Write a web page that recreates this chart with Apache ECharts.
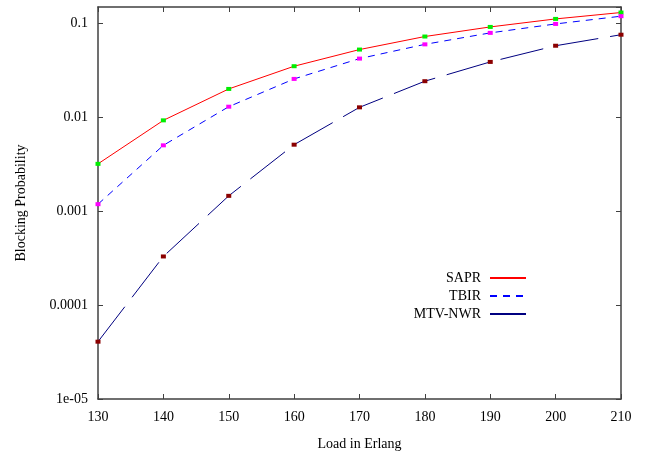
<!DOCTYPE html>
<html>
<head>
<meta charset="utf-8">
<script src="https://cdn.jsdelivr.net/npm/echarts@6/dist/echarts.min.js"></script>
<style>html,body{margin:0;padding:0;background:#fff}#c{width:656px;height:457px}</style>
</head>
<body>
<div id="c"></div>
<script>
var loads = [130, 140, 150, 160, 170, 180, 190, 200, 210];
var sapr = [0.0032, 0.0093, 0.0201, 0.0351, 0.0528, 0.0727, 0.092, 0.112, 0.131];
var tbir = [0.00119, 0.00504, 0.0130, 0.0257, 0.0423, 0.0600, 0.0795, 0.099, 0.1197];
var mtvnwr = [0.0000408, 0.00033, 0.00146, 0.00512, 0.0128, 0.0243, 0.039, 0.058, 0.076];
var seriesNames = ['SAPR', 'TBIR', 'MTV-NWR'];
var yTickLabels = {'-5': '1e-05', '-4': '0.0001', '-3': '0.001', '-2': '0.01', '-1': '0.1'};

function pairs(vals) { return loads.map(function (x, i) { return [x, vals[i]]; }); }

var font = 'Liberation Serif';
var axisCol = '#404040';
var chart = echarts.init(document.getElementById('c'), null, {renderer: 'canvas'});

function yFmt(v) {
  var l = Math.round(Math.log10(v) * 1000) / 1000;
  if (Math.abs(l - Math.round(l)) > 1e-6) return '';
  return yTickLabels[String(Math.round(l))] || '';
}

chart.setOption({
  backgroundColor: '#fff',
  animation: false,
  textStyle: {fontFamily: font},
  grid: {left: 98, right: 35, top: 7, bottom: 58},
  legend: {
    orient: 'vertical',
    right: 124,
    top: 266,
    align: 'right',
    itemWidth: 36,
    itemHeight: 10,
    itemGap: 4,
    itemStyle: {opacity: 0},
    textStyle: {fontFamily: font, fontSize: 14, color: '#000', padding: [0, 4, 0, 0]},
    data: seriesNames
  },
  xAxis: [{
    type: 'value', min: 130, max: 210, interval: 10,
    name: 'Load in Erlang', nameLocation: 'middle', nameGap: 38,
    nameTextStyle: {fontFamily: font, fontSize: 14, color: '#000'},
    axisLine: {show: true, lineStyle: {color: axisCol, width: 1.5}},
    axisTick: {show: true, inside: true, length: 5, lineStyle: {color: axisCol}},
    axisLabel: {fontFamily: font, fontSize: 14, color: '#000', margin: 11},
    splitLine: {show: false}
  }, {
    type: 'value', min: 130, max: 210, interval: 10, position: 'top',
    axisLine: {show: true, onZero: false, lineStyle: {color: axisCol, width: 1.5}},
    axisTick: {show: true, inside: true, length: 5, lineStyle: {color: axisCol}},
    axisLabel: {show: false}, splitLine: {show: false}
  }],
  yAxis: [{
    type: 'log', logBase: 10, min: 0.00001, max: 0.15,
    name: 'Blocking Probability', nameLocation: 'middle', nameGap: 70,
    nameTextStyle: {fontFamily: font, fontSize: 14, color: '#000'},
    axisLine: {show: true, lineStyle: {color: axisCol, width: 1.5}},
    axisTick: {show: true, inside: true, length: 5, lineStyle: {color: axisCol}},
    axisLabel: {fontFamily: font, fontSize: 14, color: '#000', margin: 10, formatter: yFmt, showMaxLabel: false},
    splitLine: {show: false}
  }, {
    type: 'log', logBase: 10, min: 0.00001, max: 0.15, position: 'right',
    axisLine: {show: true, lineStyle: {color: axisCol, width: 1.5}},
    axisTick: {show: true, inside: true, length: 5, lineStyle: {color: axisCol}},
    axisLabel: {show: false}, splitLine: {show: false}
  }],
  series: [{
    name: 'SAPR', type: 'line', data: pairs(sapr),
    symbol: 'rect', symbolSize: [5, 4],
    itemStyle: {color: '#00ee00'},
    lineStyle: {color: '#ff0000', width: 1, type: 'solid'},
    z: 3
  }, {
    name: 'TBIR', type: 'line', data: pairs(tbir),
    symbol: 'rect', symbolSize: [5, 4],
    itemStyle: {color: '#ff00ff'},
    lineStyle: {color: '#0000ff', width: 1, type: [7, 6]},
    z: 3
  }, {
    name: 'MTV-NWR', type: 'line', data: pairs(mtvnwr),
    symbol: 'rect', symbolSize: [5, 4],
    itemStyle: {color: '#8b0000'},
    lineStyle: {color: '#000080', width: 1, type: [44, 12]},
    z: 3
  }]
});
</script>
</body>
</html>
